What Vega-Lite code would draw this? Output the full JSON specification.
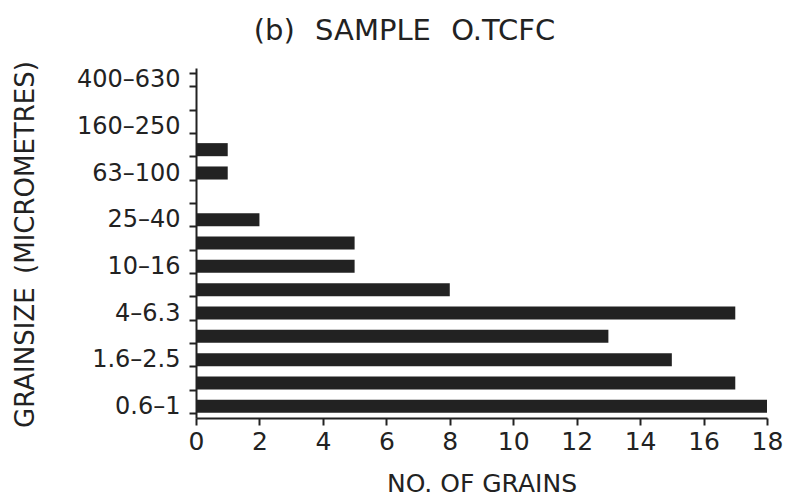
{
  "$schema": "https://vega.github.io/schema/vega-lite/v6.json",
  "width": 571,
  "height": 350,
  "autosize": {"type": "none"},
  "padding": {"left": 196, "top": 68, "right": 19, "bottom": 83},
  "background": "white",
  "title": {
    "text": "(b)\u2002\u2009SAMPLE\u2002\u2009O.TCFC",
    "font": "DejaVu Sans",
    "fontSize": 29,
    "fontWeight": "normal",
    "color": "#222",
    "anchor": "middle",
    "frame": "group",
    "dx": -77,
    "offset": 10
  },
  "data": {
    "values": [
      {"size": "0.6–1", "grains": 18},
      {"size": "1–1.6", "grains": 17},
      {"size": "1.6–2.5", "grains": 15},
      {"size": "2.5–4", "grains": 13},
      {"size": "4–6.3", "grains": 17},
      {"size": "6.3–10", "grains": 8},
      {"size": "10–16", "grains": 5},
      {"size": "16–25", "grains": 5},
      {"size": "25–40", "grains": 2},
      {"size": "40–63", "grains": 0},
      {"size": "63–100", "grains": 1},
      {"size": "100–160", "grains": 1},
      {"size": "160–250", "grains": 0},
      {"size": "250–400", "grains": 0},
      {"size": "400–630", "grains": 0}
    ]
  },
  "mark": {"type": "bar", "color": "#222222"},
  "encoding": {
    "y": {
      "field": "size",
      "type": "nominal",
      "scale": {
        "domain": ["400–630", "250–400", "160–250", "100–160", "63–100", "40–63", "25–40", "16–25", "10–16", "6.3–10", "4–6.3", "2.5–4", "1.6–2.5", "1–1.6", "0.6–1"],
        "paddingInner": 0.44,
        "paddingOuter": 0.22
      },
      "axis": {
        "title": "GRAINSIZE\u2009 (MICROMETRES)",
        "titleFont": "DejaVu Sans",
        "titleFontSize": 26,
        "titleFontWeight": "normal",
        "titleColor": "#222",
        "titleAngle": -90,
        "titleX": -171,
        "titleY": 176,
        "titleAlign": "center",
        "titleBaseline": "middle",
        "labelFont": "DejaVu Sans",
        "labelFontSize": 24,
        "labelColor": "#222",
        "labelPadding": 9,
        "labelExpr": "indexof(['0.6–1','1.6–2.5','4–6.3','10–16','25–40','63–100','160–250','400–630'], datum.value) >= 0 ? datum.label : ''",
        "tickBand": "extent",
        "tickSize": 7,
        "tickWidth": 2,
        "tickColor": "#222",
        "domainColor": "#222",
        "domainWidth": 2,
        "grid": false
      }
    },
    "x": {
      "field": "grains",
      "type": "quantitative",
      "scale": {"domain": [0, 18], "nice": false},
      "axis": {
        "title": "NO. OF GRAINS",
        "titleFont": "DejaVu Sans",
        "titleFontSize": 25,
        "titleFontWeight": "normal",
        "titleColor": "#222",
        "titlePadding": 17,
        "values": [0, 2, 4, 6, 8, 10, 12, 14, 16, 18],
        "labelFont": "DejaVu Sans",
        "labelFontSize": 25,
        "labelColor": "#222",
        "labelPadding": 4,
        "labelFlush": false,
        "tickSize": 7,
        "tickWidth": 2,
        "tickColor": "#222",
        "domainColor": "#222",
        "domainWidth": 2,
        "grid": false
      }
    }
  },
  "config": {"view": {"stroke": null}}
}
